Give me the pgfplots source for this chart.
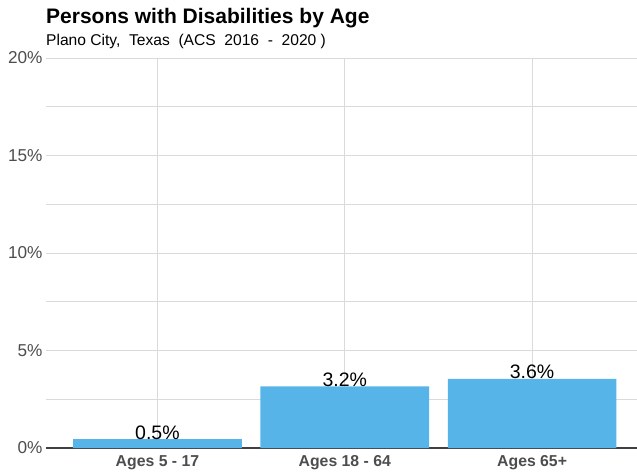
\documentclass[border=0pt]{standalone}
\usepackage{pgfplots}
\pgfplotsset{compat=1.18}
\usepackage{pgfplotstable}
\usepackage{fontspec}
\setmainfont{Liberation Sans}
\definecolor{barblue}{HTML}{56B4E9}
\definecolor{gridgray}{HTML}{DADADA}
\definecolor{ticktext}{HTML}{4D4D4D}
\pgfplotstableread{
x value label
1 0.45 0.5\%
2 3.16 3.2\%
3 3.55 3.6\%
}\disdata
\begin{document}
\begin{tikzpicture}
\path[use as bounding box] (-46pt,-24pt) rectangle (591pt,448pt);
\begin{axis}[
  scale only axis,
  width=591pt, height=390pt,
  xmin=0.405, xmax=3.56,
  ymin=0, ymax=20,
  xtick={1,2,3},
  xticklabels={Ages 5 - 17, Ages 18 - 64, Ages 65+},
  ytick={0,5,10,15,20},
  yticklabels={0\%,5\%,10\%,15\%,20\%},
  minor ytick={2.5,7.5,12.5,17.5},
  ymajorgrids, yminorgrids, xmajorgrids,
  grid style={gridgray, line width=0.9pt},
  minor grid style={gridgray, line width=0.9pt},
  major tick length=0pt, minor tick length=0pt,
  axis x line*=bottom, axis y line*=left,
  y axis line style={draw=none},
  x axis line style={draw=black!75, line width=1.3pt},
  yticklabel style={font=\fontsize{17.2}{20}\selectfont, text=ticktext, anchor=east, xshift=0pt},
  xticklabel style={font=\fontsize{15.8}{18}\selectfont\bfseries, text=ticktext, anchor=base, yshift=-18pt},
  ybar, bar width=0.9,
  point meta=explicit symbolic,
  nodes near coords,
  every node near coord/.append style={anchor=base, font=\fontsize{19.5}{22}\selectfont, text=black, inner sep=0pt},
]
\addplot[fill=barblue, draw=none] table[x=x, y=value, meta=label] {\disdata};
\end{axis}
\node[anchor=base west, inner sep=0pt, font=\fontsize{21}{24}\selectfont\bfseries] at (0pt,424pt) {Persons with Disabilities by Age};
\node[anchor=base west, inner sep=0pt, font=\fontsize{15.6}{18}\selectfont] at (0pt,402pt) {Plano City,\ \ Texas\ \ (ACS\ \ 2016\ \ -\ \ 2020 )};
\end{tikzpicture}
\end{document}
